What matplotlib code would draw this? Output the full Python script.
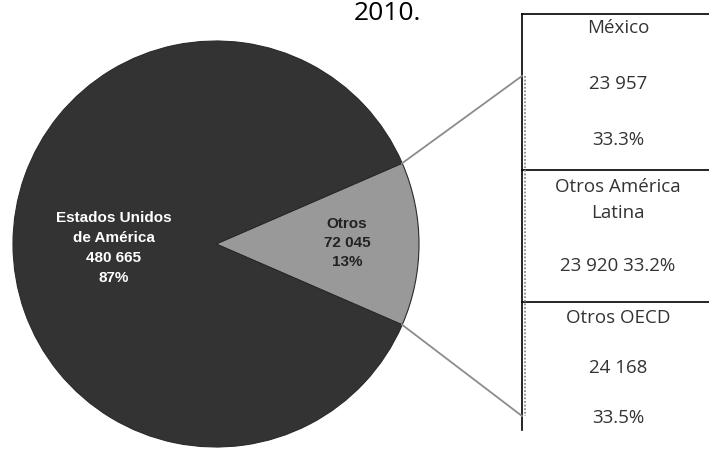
import numpy as np
import matplotlib.pyplot as plt
from matplotlib.lines import Line2D

# Datos 2010
paises = ['Estados Unidos\nde América', 'Otros']
valores = [480665, 72045]
porcentajes = [87, 13]

desglose = ['México', 'Otros América\nLatina', 'Otros OECD']
desglose_valores = [23957, 23920, 24168]
desglose_pct = [33.3, 33.2, 33.5]

titulo = '2010.'


def fmt_miles(v):
    return f'{v:,}'.replace(',', ' ')


W, H = 709, 449
fig = plt.figure(figsize=(W / 100, H / 100), dpi=100)
ax = fig.add_axes([0, 0, 1, 1])

cx, cy, r = 216, 244, 203
frac_otros = valores[1] / sum(valores)
theta = 360 * frac_otros

# pastel: "Otros" a la derecha, centrado en 0 grados
wedges, _ = ax.pie([valores[1], valores[0]], colors=['#999999', '#333333'],
                   startangle=-theta / 2, radius=r, center=(cx, cy),
                   frame=True, wedgeprops=dict(linewidth=0.8, edgecolor='#2a2a2a'))

ax.set_xlim(0, W)
ax.set_ylim(H, 0)
ax.set_aspect('equal')
ax.axis('off')

# etiquetas del pastel
ax.text(114, 248,
        f'{paises[0]}\n{fmt_miles(valores[0])}\n{porcentajes[0]}%',
        ha='center', va='center', color='white', fontsize=11,
        fontweight='bold', family='Liberation Sans', linespacing=1.55)
ax.text(347, 243,
        f'{paises[1]}\n{fmt_miles(valores[1])}\n{porcentajes[1]}%',
        ha='center', va='center', color='#222222', fontsize=11,
        fontweight='bold', family='Liberation Sans', linespacing=1.5)

# caja del desglose
bx, top, bottom = 522, 14, 430
divs = [170, 302]
linea = dict(color='black', lw=1.2)
ax.add_line(Line2D([bx, W], [top, top], **linea))
ax.add_line(Line2D([bx, bx], [top, bottom], **linea))
for d in divs:
    ax.add_line(Line2D([bx, W], [d, d], **linea))
ax.add_line(Line2D([bx + 3, bx + 3], [76, 416], color='#8a8a8a', lw=1.3,
                   dashes=(1, 1)))

# líneas de conexión desde los bordes de la cuña
a = np.radians(theta / 2)
ex, ey = cx + r * np.cos(a), r * np.sin(a)
ax.add_line(Line2D([ex, bx], [cy - ey, 76], color='#8c8c8c', lw=1.3))
ax.add_line(Line2D([ex, bx], [cy + ey, 416], color='#8c8c8c', lw=1.3))

# textos del desglose
tx = 618
txt = dict(ha='center', va='center', color='#333333', fontsize=13.5,
           family='Open Sans')
ax.text(tx, 28, desglose[0], **txt)
ax.text(tx, 84, fmt_miles(desglose_valores[0]), **txt)
ax.text(tx, 140, f'{desglose_pct[0]}%', **txt)
ax.text(tx, 200, desglose[1], linespacing=1.5, **txt)
ax.text(tx, 266, f'{fmt_miles(desglose_valores[1])} {desglose_pct[1]}%', **txt)
ax.text(tx, 318, desglose[2], **txt)
ax.text(tx, 368, fmt_miles(desglose_valores[2]), **txt)
ax.text(tx, 418, f'{desglose_pct[2]}%', **txt)

ax.text(387, 20, titulo, ha='center', va='baseline', fontsize=19,
        family='Open Sans', color='black')

fig.savefig('out.png', dpi=100)
